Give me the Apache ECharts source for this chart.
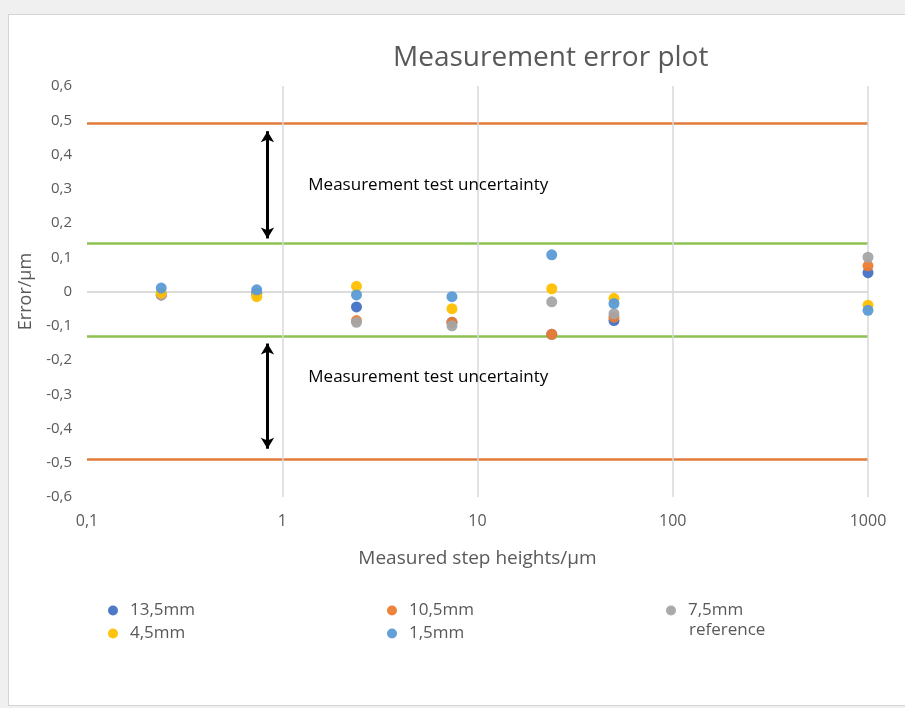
<!DOCTYPE html>
<html><head><meta charset="utf-8">
<script src="https://cdn.jsdelivr.net/npm/echarts@6/dist/echarts.min.js"></script>
<style>
html,body{margin:0;padding:0;background:#f0f0f0;width:905px;height:708px;overflow:hidden;}
#panel{position:absolute;left:8px;top:14px;width:910px;height:690px;background:#fff;border:1px solid #d4d4d4;}
#chart{position:absolute;left:0;top:0;width:905px;height:708px;}
</style></head>
<body><div id="panel"></div><div id="chart"></div>
<script>
var stepHeights = [0.24, 0.74, 2.4, 7.4, 24, 50, 1000];
var seriesNames = ['13,5mm', '10,5mm', '7,5mm reference', '4,5mm', '1,5mm'];
var err13_5 = [-0.01, -0.005, -0.045, -0.09, -0.125, -0.085, 0.055];
var err10_5 = [-0.01, -0.005, -0.085, -0.09, -0.125, -0.075, 0.075];
var err7_5  = [-0.01, -0.005, -0.09, -0.1, -0.03, -0.065, 0.1];
var err4_5  = [-0.005, -0.015, 0.015, -0.05, 0.008, -0.02, -0.04];
var err1_5  = [0.01, 0.005, -0.01, -0.015, 0.107, -0.035, -0.055];
var seriesColors = ['#4472C4', '#ED7D31', '#A5A5A5', '#FFC000', '#5B9BD5'];
var uncertaintyLimits = [0.49, -0.49];
var testLimits = [0.135, -0.13];
var xGridTicks = [1, 10, 100, 1000];
var xTickLabels = {0.1: '0,1', 1: '1', 10: '10', 100: '100', 1000: '1000'};
var arrowX = 0.84;
var upperArrow = [0.468, 0.155];
var lowerArrow = [-0.152, -0.459];
var noteText = 'Measurement test uncertainty';
var noteX = 1.36;
var noteY = [0.31, -0.251];

var allData = [err13_5, err10_5, err7_5, err4_5, err1_5];
var FONT = '"Open Sans", "Liberation Sans", sans-serif';
var grey = '#595959';

var scatterSeries = allData.map(function (vals, i) {
  return {
    name: seriesNames[i], type: 'scatter', symbol: 'circle', symbolSize: 11,
    itemStyle: {color: seriesColors[i], opacity: 0.95},
    data: stepHeights.map(function (x, j) { return [x, vals[j]]; }),
    z: 5
  };
});

function hLine(y, color) { return {yAxis: y, lineStyle: {color: color, width: 2.5, type: 'solid'}}; }

var refSeries = {
  type: 'scatter', data: [], silent: true, z: 2,
  markLine: {
    silent: true, symbol: 'none', label: {show: false}, animation: false,
    data: [{yAxis: 0, lineStyle: {color: '#d0d0d0', width: 1.5, type: 'solid'}}]
      .concat(uncertaintyLimits.map(function (v) { return hLine(v, '#E07B39'); }))
      .concat(testLimits.map(function (v) { return hLine(v, '#8CC152'); }))
      .concat(xGridTicks.map(function (t) {
        return {xAxis: t, lineStyle: {color: '#d9d9d9', width: 1.5, type: 'solid'}};
      }))
  }
};

var arrowSeries = {
  type: 'scatter', data: [], silent: true, z: 6,
  markLine: {
    silent: true, symbol: ['arrow', 'arrow'], symbolSize: [10, 11], label: {show: false}, animation: false,
    lineStyle: {color: '#000', width: 3, type: 'solid'},
    data: [
      [{coord: [arrowX, upperArrow[0]]}, {coord: [arrowX, upperArrow[1]]}],
      [{coord: [arrowX, lowerArrow[0]]}, {coord: [arrowX, lowerArrow[1]]}]
    ]
  },
  markPoint: {
    silent: true, symbol: 'circle', symbolSize: 0, animation: false,
    label: {show: true, position: 'right', distance: 0, color: '#000', fontSize: 17, fontFamily: FONT,
      formatter: function () { return noteText; }},
    data: noteY.map(function (y) { return {coord: [noteX, y], value: 0}; })
  }
};

var legendBase = {
  orient: 'vertical', icon: 'circle', itemWidth: 10, itemHeight: 10, itemGap: 4,
  textStyle: {color: grey, fontSize: 17, fontFamily: FONT, padding: [0, 0, 0, 7], lineHeight: 19},
  selectedMode: false
};

var chart = echarts.init(document.getElementById('chart'), null, {renderer: 'canvas'});
chart.setOption({
  backgroundColor: 'transparent',
  animation: false,
  textStyle: {fontFamily: FONT},
  title: {text: 'Measurement error plot', left: 388, top: 39,
    textStyle: {color: grey, fontSize: 28, fontWeight: 'normal', fontFamily: FONT}},
  grid: {left: 87, right: 37, top: 86, bottom: 211},
  legend: [
    Object.assign({}, legendBase, {left: 103, top: 596, data: [seriesNames[0], seriesNames[3]]}),
    Object.assign({}, legendBase, {left: 382, top: 596, data: [seriesNames[1], seriesNames[4]]}),
    Object.assign({}, legendBase, {left: 661, top: 596, data: [seriesNames[2]],
      formatter: function (n) { return n.split(' ')[0]; }})
  ],
  graphic: [{
    type: 'text', left: 689, top: 622, silent: true,
    style: {text: seriesNames[2].split(' ')[1], fill: grey, fontSize: 17, fontFamily: FONT}
  }],
  xAxis: {
    type: 'log', logBase: 10, min: 0.1, max: 1000,
    name: 'Measured step heights/µm', nameLocation: 'middle', nameGap: 52,
    nameTextStyle: {color: grey, fontSize: 19, fontFamily: FONT},
    axisLine: {show: false}, axisTick: {show: false}, splitLine: {show: false},
    axisLabel: {color: grey, fontSize: 16, margin: 16, fontFamily: FONT,
      formatter: function (v) { return xTickLabels[v] !== undefined ? xTickLabels[v] : String(v); }}
  },
  yAxis: {
    type: 'value', min: -0.6, max: 0.6, interval: 0.1,
    name: 'Error/µm', nameLocation: 'middle', nameGap: 47, nameRotate: 90,
    nameTextStyle: {color: grey, fontSize: 18, fontFamily: FONT},
    axisLine: {show: false}, axisTick: {show: false}, splitLine: {show: false},
    axisLabel: {color: grey, fontSize: 15, margin: 15, fontFamily: FONT,
      formatter: function (v) {
        var r = Math.round(v * 10) / 10;
        if (r === 0) return '0';
        return r.toFixed(1).replace('.', ',');
      }}
  },
  series: [refSeries].concat(scatterSeries).concat([arrowSeries])
});
</script></body></html>
